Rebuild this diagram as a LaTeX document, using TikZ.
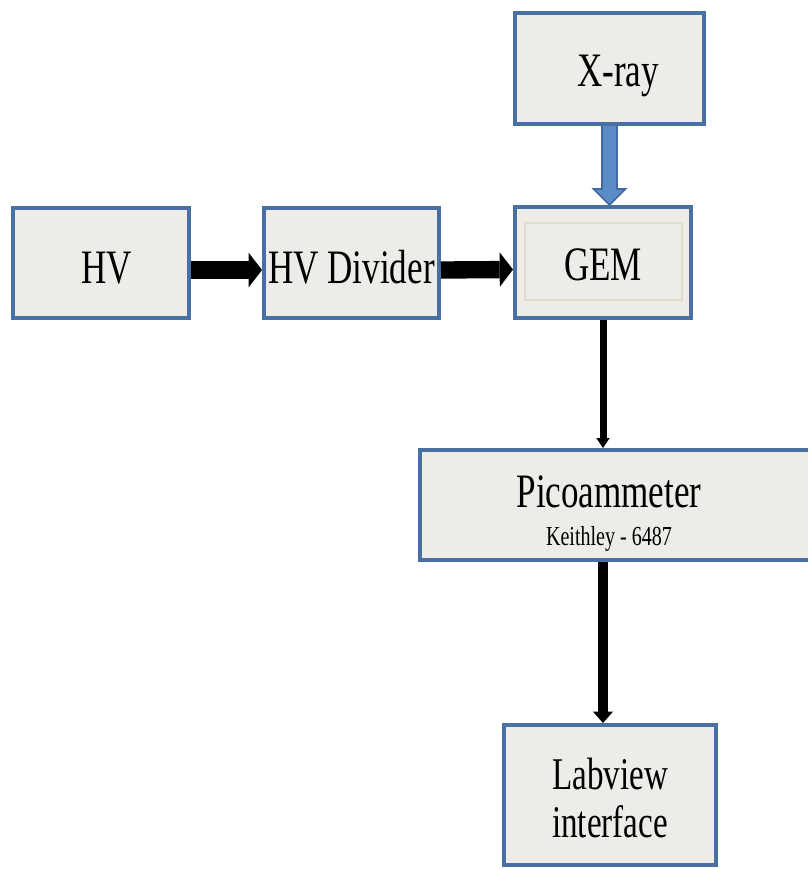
\documentclass[tikz,border=0pt]{standalone}
\usepackage{fontspec}
\setmainfont[FakeStretch=0.73]{Liberation Serif}
\usetikzlibrary{arrows.meta,calc}
\definecolor{boxfill}{RGB}{237,236,230}
\definecolor{boxline}{RGB}{72,112,163}
\definecolor{innerline}{RGB}{226,220,204}
\definecolor{xfill}{RGB}{92,140,200}
\definecolor{xline}{RGB}{66,106,160}
\begin{document}
\begin{tikzpicture}[x=0.75pt,y=-0.75pt,
  box/.style={draw=boxline, fill=boxfill, line width=3pt, inner sep=0pt,
    font=\fontsize{36}{36}\selectfont},
  single/.style={text height=#1, text depth=0pt},
  bigarrow/.style={line width=13pt, -{Triangle[width=26pt,length=10pt,line width=0pt]}},
  thinarrow/.style={line width=5.25pt, -{Triangle[width=10pt,length=7.5pt,line width=0pt]}},
  midarrow/.style={line width=7pt, -{Triangle[width=15pt,length=8.5pt,line width=0pt]}},
]
\useasboundingbox (0,0) rectangle (808,869);

\node[box, single=30.4pt, minimum width=132pt, minimum height=82.5pt] (hv) at (101,263) {\hspace*{9pt}HV};
\node[box, single=30.4pt, minimum width=131.25pt, minimum height=82.5pt] (hvd) at (351.5,263) {HV Divider};
\node[box, single=27.4pt, minimum width=132pt, minimum height=83.25pt] (gem) at (603,262.5) {GEM};
\draw[innerline, line width=1.2pt] ($(gem.center)+(-78,-39.5)$) rectangle ($(gem.center)+(79,37.5)$);
\node[box, single=27.4pt, minimum width=141.75pt, minimum height=83.25pt] (xray) at (609.5,68.5) {\hspace*{12.8pt}X-ray};
\node[box, minimum width=297pt, minimum height=82.5pt] (pico) at (618,505)
  {\hspace*{-13.5pt}\raisebox{-8.6pt}[\height][\depth]{\begin{tabular}{@{}c@{}}Picoammeter\\[-7.5pt]\fontsize{20.6}{24}\selectfont Keithley - 6487\end{tabular}}};
\node[box, minimum width=159pt, minimum height=105pt, font=\fontsize{34}{36}\selectfont] (lab) at (610,795)
  {\raisebox{-7pt}[\height][\depth]{\begin{tabular}{@{}c@{}}Labview\\interface\end{tabular}}};

% connectors
\draw[bigarrow] ($(hv.east)+(0,7)$) -- ($(hvd.west)+(0,7)$);
\draw[bigarrow] ($(hvd.east)+(0,7)$) -- ($(gem.west)+(0,7)$);
\draw[thinarrow] (gem.south) -- (gem.south |- pico.north);
\draw[midarrow] (gem.south |- pico.south) -- (gem.south |- lab.north);

% X-ray block arrow
\coordinate (xs) at (xray.south);
\coordinate (xt) at (xray.south |- gem.north);
\filldraw[fill=xfill, draw=xline, line width=1.3pt, line join=miter]
  ($(xs)+(-7.5,0)$) -- ($(xt)+(-7.5,-16)$) -- ($(xt)+(-16,-16)$) -- (xt)
  -- ($(xt)+(16,-16)$) -- ($(xt)+(7.5,-16)$) -- ($(xs)+(7.5,0)$);
\end{tikzpicture}
\end{document}
